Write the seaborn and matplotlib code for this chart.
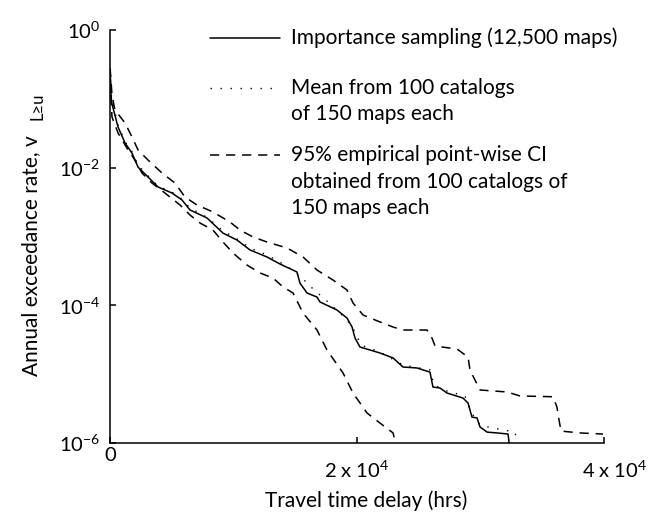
import matplotlib
matplotlib.use("Agg")
import matplotlib.pyplot as plt
import matplotlib.transforms as mtransforms
from matplotlib.lines import Line2D
from matplotlib.ticker import NullLocator
import numpy as np
import pandas as pd
import seaborn as sns

# Importance sampling (12,500 maps)
is_hours = [40, 80, 140, 650, 1220, 1780, 2270, 3080, 3890, 5020, 5830, 6480, 7850,
            9150, 10280, 11340, 12710, 13770, 15140, 15380, 15950, 16760, 17000,
            18380, 19190, 19600, 19840, 20240, 21860, 22920, 23720, 24860, 25910,
            26150, 26720, 27290, 28580, 28990, 29310, 29720, 29960, 30530, 31340,
            32230, 32390]
is_rate = [0.201, 0.114, 0.0869, 0.0390, 0.0228, 0.0163, 0.0102, 0.00731, 0.00524,
           0.00428, 0.00339, 0.00243, 0.00186, 0.00112, 0.000889, 0.000637, 0.000504,
           0.000398, 0.000305, 0.000211, 0.000151, 0.000132, 0.000112, 8.55e-5,
           6.54e-5, 4.84e-5, 3.35e-5, 2.48e-5, 2.03e-5, 1.72e-5, 1.27e-5, 1.23e-5,
           1.07e-5, 6.5e-6, 6.29e-6, 5.32e-6, 4.5e-6, 3.81e-6, 2.38e-6, 2.31e-6,
           1.71e-6, 1.44e-6, 1.4e-6, 1.35e-6, 8e-7]

# Mean from 100 catalogs of 150 maps each
mean_hours = [40, 120, 650, 1220, 1780, 2270, 3080, 3890, 5020, 5830, 6480, 7850,
              9150, 10280, 11340, 12710, 14330, 15380, 16440, 17650, 18870, 19600,
              20000, 20400, 21860, 23720, 25910, 26240, 27290, 28740, 29230, 29960,
              31010, 32800, 33040]
mean_rate = [0.22, 0.103, 0.0418, 0.0237, 0.0170, 0.0109, 0.0076, 0.0054, 0.0044,
             0.0035, 0.0026, 0.0019, 0.00121, 0.00092, 0.00068, 0.00054, 0.00037,
             0.000267, 0.000173, 0.000112, 7.0e-5, 5.0e-5, 3.47e-5, 2.6e-5, 2.1e-5,
             1.36e-5, 1.15e-5, 6.95e-6, 5.69e-6, 4.82e-6, 2.82e-6, 1.82e-6, 1.65e-6,
             1.44e-6, 8e-7]

# 95% empirical point-wise CI, upper bound
ci_hi_hours = [10, 160, 400, 1220, 1780, 2270, 3080, 4210, 5260, 6070, 7040, 8340,
               9720, 10530, 11580, 12710, 14330, 15630, 16760, 18060, 19190, 19680,
               20490, 21860, 22920, 23720, 25670, 26070, 26320, 28100, 28990, 29150,
               29470, 29960, 32150, 33200, 35870, 36190, 36360, 36520, 38060, 39920]
ci_hi_rate = [0.28, 0.114, 0.0688, 0.0446, 0.0279, 0.0181, 0.0129, 0.00836, 0.00598,
              0.00375, 0.00287, 0.00227, 0.00162, 0.00124, 0.000984, 0.000832,
              0.000681, 0.000504, 0.000326, 0.000233, 0.000167, 0.000108, 7.23e-5,
              5.73e-5, 4.84e-5, 4.38e-5, 4.38e-5, 3.35e-5, 2.56e-5, 2.32e-5, 1.77e-5,
              1.15e-5, 8.8e-6, 5.89e-6, 5.51e-6, 4.82e-6, 4.7e-6, 3.33e-6, 2.16e-6,
              1.49e-6, 1.40e-6, 1.35e-6]

# 95% empirical point-wise CI, lower bound
ci_lo_hours = [25, 160, 650, 1460, 2020, 2590, 3400, 4450, 5670, 6480, 7290, 8340,
               9150, 9960, 11090, 12150, 13200, 14010, 14820, 15630, 16760, 17570,
               18870, 19680, 20810, 21860, 22920, 23240]
ci_lo_rate = [0.188, 0.0545, 0.0319, 0.0181, 0.0129, 0.00836, 0.00598, 0.00428,
              0.00287, 0.00205, 0.00157, 0.00124, 0.000832, 0.000575, 0.000385,
              0.000295, 0.000249, 0.000185, 0.000151, 7.73e-5, 4.38e-5, 2.24e-5,
              1.04e-5, 5.32e-6, 2.73e-6, 1.95e-6, 1.40e-6, 8e-7]

legend_labels = [
    ["Importance sampling (12,500 maps)"],
    ["Mean from 100 catalogs", "of 150 maps each"],
    ["95% empirical point-wise CI", "obtained from 100 catalogs of", "150 maps each"],
]

x_ticks = [0, 20000, 40000]
x_tick_labels = ["0", "2 x 10$^{4}$", "4 x 10$^{4}$"]
y_ticks = [1, 1e-2, 1e-4, 1e-6]
y_tick_labels = ["10$^{0}$", "10$^{-2}$", "10$^{-4}$", "10$^{-6}$"]

sns.set_theme(style="white")
plt.rcParams["font.family"] = ["Lato", "DejaVu Sans"]
plt.rcParams["mathtext.default"] = "regular"

FS = 15
TICK_FS = 14.5
W, H = 649, 514
fig = plt.figure(figsize=(W / 100, H / 100), dpi=100)
ax = fig.add_axes([110 / W, 1 - 443 / H, 494 / W, 413 / H])

DOT = (0, (1.0, 6.2))
DASH = (0, (6.0, 4.5))

series = [
    (is_hours, is_rate, "-", 1.1),
    (mean_hours, mean_rate, DOT, 1.0),
    (ci_hi_hours, ci_hi_rate, DASH, 1.1),
    (ci_lo_hours, ci_lo_rate, DASH, 1.1),
]
for hrs, rate, ls, lw in series:
    df = pd.DataFrame({"hours": hrs, "rate": rate})
    sns.lineplot(data=df, x="hours", y="rate", ax=ax, color="black",
                 linestyle=ls, linewidth=lw, estimator=None, sort=False)

ax.set_yscale("log")
ax.set_xlim(0, 40000)
ax.set_ylim(1e-6, 1)
ax.yaxis.set_minor_locator(NullLocator())
ax.xaxis.set_minor_locator(NullLocator())
ax.set_xticks(x_ticks)
ax.set_xticklabels(x_tick_labels)
ax.set_yticks(y_ticks)
ax.set_yticklabels(y_tick_labels)

sns.despine(ax=ax)
for side in ("left", "bottom"):
    ax.spines[side].set_linewidth(1.1)
    ax.spines[side].set_color("black")

ax.tick_params(axis="both", direction="in", length=4, width=1.1, color="black",
               labelcolor="black", labelsize=TICK_FS)
ax.tick_params(axis="y", pad=7, left=True)
ax.tick_params(axis="x", pad=12, bottom=True)

# nudge the end labels on the x axis
lbls = ax.get_xticklabels()
lbls[0].set_transform(lbls[0].get_transform()
                      + mtransforms.ScaledTranslation(0, 0.13, fig.dpi_scale_trans))
lbls[2].set_transform(lbls[2].get_transform()
                      + mtransforms.ScaledTranslation(0.11, 0, fig.dpi_scale_trans))

ax.set_xlabel("Travel time delay (hrs)", fontsize=FS, color="black")
ax.xaxis.set_label_coords(0.518, -0.115)

# y label with a full-size subscript placed beside it
ax.set_ylabel("Annual exceedance rate, v", fontsize=FS, color="black",
              va="baseline")
ax.yaxis.set_label_coords((37 - 110) / 494, (443 - 256) / 413)


def fx(px):
    return px / W


def fy(py):
    return 1 - py / H


fig.text(fx(43), fy(106), "L≥u", rotation=90, rotation_mode="anchor",
         ha="center", va="baseline", fontsize=12, color="black")

# legend drawn in figure pixels
rows = [38, 88, 155]
styles = [("-", 1.1), (DOT, 1.0), (DASH, 1.1)]
for (ls, lw), y0, lines in zip(styles, rows, legend_labels):
    fig.add_artist(Line2D([fx(210), fx(280)], [fy(y0), fy(y0)], color="black",
                          linestyle=ls, linewidth=lw, transform=fig.transFigure))
    for i, txt in enumerate(lines):
        fig.text(fx(291), fy(y0 + 26.5 * i), txt, ha="left", va="center",
                 fontsize=FS, color="black")

fig.savefig("out.png", dpi=100, facecolor="white")
